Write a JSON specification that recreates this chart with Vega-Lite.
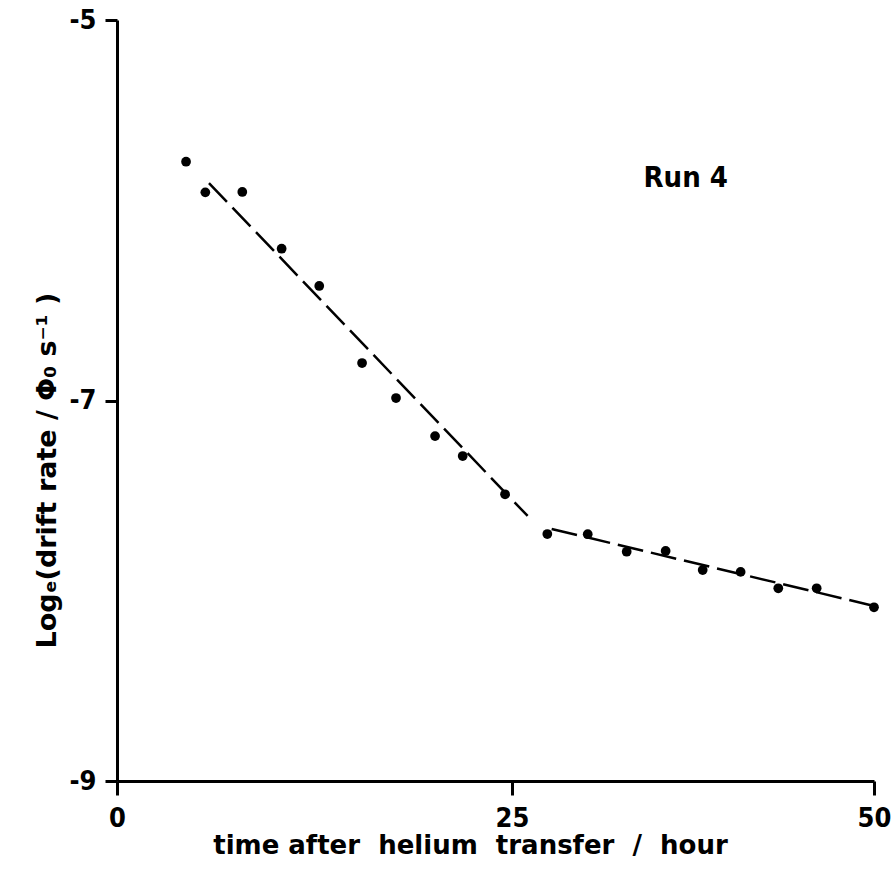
{
  "$schema": "https://vega.github.io/schema/vega-lite/v6.json",
  "width": 757,
  "height": 761,
  "autosize": "none",
  "padding": {"left": 117, "top": 20, "right": 17, "bottom": 106},
  "background": "white",
  "config": {
    "view": {"stroke": null},
    "font": "DejaVu Sans Condensed, DejaVu Sans, sans-serif",
    "axis": {
      "grid": false,
      "domainColor": "black",
      "domainWidth": 3,
      "tickColor": "black",
      "tickWidth": 3,
      "tickSize": 14,
      "labelFlush": false,
      "labelFont": "DejaVu Sans Condensed, DejaVu Sans, sans-serif",
      "labelFontWeight": "bold",
      "labelFontSize": 27,
      "labelColor": "black",
      "titleFont": "DejaVu Sans, sans-serif",
      "titleFontWeight": "bold",
      "titleFontSize": 26,
      "titleColor": "black"
    }
  },
  "datasets": {
    "points": [
      {"t": 4.37, "v": -5.745},
      {"t": 5.59, "v": -5.906},
      {"t": 7.93, "v": -5.904},
      {"t": 10.42, "v": -6.202},
      {"t": 12.80, "v": -6.398},
      {"t": 15.51, "v": -6.803},
      {"t": 17.66, "v": -6.987},
      {"t": 20.13, "v": -7.187},
      {"t": 21.88, "v": -7.292},
      {"t": 24.56, "v": -7.493},
      {"t": 27.44, "v": -7.702},
      {"t": 30.23, "v": -7.703},
      {"t": 32.92, "v": -7.795},
      {"t": 35.61, "v": -7.791},
      {"t": 38.17, "v": -7.891},
      {"t": 40.79, "v": -7.901},
      {"t": 43.39, "v": -7.987},
      {"t": 46.04, "v": -7.987},
      {"t": 50.0, "v": -8.087}
    ],
    "fits": [
      {"seg": "a", "t": 5.82, "v": -5.857},
      {"seg": "a", "t": 26.08, "v": -7.607},
      {"seg": "b", "t": 27.74, "v": -7.675},
      {"seg": "b", "t": 50.0, "v": -8.08}
    ],
    "labels": [
      {"t": 37.0, "v": -5.88, "label": "Run 4"}
    ]
  },
  "layer": [
    {
      "data": {"name": "fits"},
      "mark": {"type": "line", "color": "black", "strokeWidth": 2.5, "strokeDash": [26, 8], "clip": false},
      "encoding": {
        "x": {
          "field": "t", "type": "quantitative",
          "scale": {"domain": [0, 25, 50], "range": [0, 395, 757], "nice": false, "zero": false},
          "axis": {
            "values": [0, 25, 50],
            "format": "d",
            "title": "time after\u00a0 helium\u00a0 transfer\u00a0 /\u00a0 hour",
            "labelPadding": 10,
            "titleX": 353,
            "titleY": 72,
            "titleBaseline": "alphabetic",
            "titleAlign": "center",
            "titleAnchor": null
          }
        },
        "y": {
          "field": "v", "type": "quantitative",
          "scale": {"domain": [-9, -5], "nice": false, "zero": false},
          "axis": {
            "values": [-9, -7, -5],
            "labelExpr": "'-' + format(abs(datum.value), 'd')",
            "title": "Logₑ(drift rate / Φ₀ s⁻¹ )",
            "titleFontSize": 27,
            "labelPadding": 9,
            "tickSize": 12,
            "titleX": -62,
            "titleY": 450,
            "titleBaseline": "alphabetic",
            "titleAngle": -90,
            "titleAnchor": null
          }
        },
        "detail": {"field": "seg"}
      }
    },
    {
      "data": {"name": "points"},
      "mark": {"type": "circle", "color": "black", "opacity": 1, "size": 95, "clip": false},
      "encoding": {
        "x": {"field": "t", "type": "quantitative"},
        "y": {"field": "v", "type": "quantitative"}
      }
    },
    {
      "data": {"name": "labels"},
      "mark": {"type": "text", "color": "black", "fontSize": 29, "fontWeight": "bold", "align": "center", "baseline": "alphabetic"},
      "encoding": {
        "x": {"field": "t", "type": "quantitative"},
        "y": {"field": "v", "type": "quantitative"},
        "text": {"field": "label"}
      }
    }
  ]
}
